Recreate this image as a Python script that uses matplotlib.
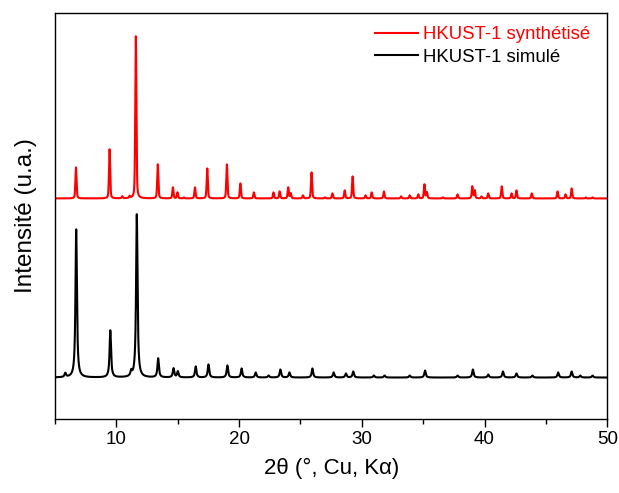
import numpy as np
import matplotlib
matplotlib.use("Agg")
import matplotlib.pyplot as plt

plt.rcParams['font.family'] = ['Liberation Sans', 'DejaVu Sans']

# peak positions (2theta) and heights (arbitrary units)
synth_pos = [6.70, 9.44, 10.47, 11.07, 11.58, 13.37, 14.60, 14.97, 15.50, 16.40,
             17.40, 19.00, 20.10, 21.20, 22.80, 23.30, 24.00, 24.20, 25.20, 25.90,
             27.00, 27.60, 28.60, 29.25, 30.30, 30.80, 31.80, 33.20, 33.90, 34.60,
             35.10, 35.30, 36.60, 37.80, 39.00, 39.20, 39.75, 40.30, 41.40, 42.20,
             42.60, 43.85, 45.95, 46.60, 47.10, 48.25, 48.80]
synth_h = [31, 49, 2, 2, 162, 34, 11, 6, 1, 11,
           30, 34, 15, 6, 6, 7, 11, 5, 3, 26,
           1, 5, 8, 22, 3, 6, 7, 2, 3, 4,
           14, 6, 1, 4, 12, 8, 2, 5, 12, 5,
           8, 5, 7, 4, 10, 1, 1]

sim_pos = [5.83, 6.72, 9.50, 11.20, 11.66, 13.40, 14.65, 15.00, 16.46, 17.50,
           19.04, 20.20, 21.35, 22.40, 23.36, 24.10, 25.97, 27.70, 28.70, 29.30,
           30.98, 31.85, 33.90, 35.15, 37.80, 39.05, 40.30, 41.50, 42.60, 43.90,
           46.00, 47.10, 47.80, 48.80]
sim_h = [4, 148, 47, 5, 163, 19, 9, 6, 11, 13,
         12, 9, 5, 2, 8, 5, 9, 5, 4, 6,
         2, 2, 2, 7, 2, 8, 3, 6, 4, 2,
         5, 6, 2, 2]

synth_offset = 220
sim_offset = 41


def profile(x, pos, h, fwhm, eta):
    y = np.zeros_like(x)
    for p, a in zip(pos, h):
        d = (x - p) / (fwhm / 2)
        lor = 1 / (1 + d ** 2)
        gau = np.exp(-np.log(2) * d ** 2)
        y += a * (eta * lor + (1 - eta) * gau)
    return y


x = np.arange(5, 50.001, 0.005)
y_synth = synth_offset + profile(x, synth_pos, synth_h, 0.11, 0.4)
y_sim = sim_offset + profile(x, sim_pos, sim_h, 0.14, 0.95)

fig = plt.figure(figsize=(6.19, 4.93), dpi=100)
ax = fig.add_axes([0.089, 0.151, 0.892, 0.822])

ax.plot(x, y_synth, color='#ff0000', lw=1.5, label='HKUST-1 synthétisé')
ax.plot(x, y_sim, color='black', lw=1.5, label='HKUST-1 simulé')

ax.set_xlim(5, 50)
ax.set_ylim(0, 405)
ax.set_xticks([10, 20, 30, 40, 50])
ax.set_xticks([5, 15, 25, 35, 45], minor=True)
ax.set_yticks([])
ax.tick_params(axis='x', which='major', length=6, width=1, labelsize=13.5, pad=3)
ax.tick_params(axis='x', which='minor', length=3.5, width=1)
for s in ax.spines.values():
    s.set_linewidth(1.0)

ax.set_xlabel('2θ (°, Cu, Kα)', fontsize=16, labelpad=7)
ax.set_ylabel('Intensité (u.a.)', fontsize=17.5, labelpad=13)

ax.legend(loc='upper right', frameon=False, fontsize=13.4, handlelength=2.3,
          handletextpad=0.3, labelspacing=0.3, labelcolor='linecolor',
          borderaxespad=0.5, bbox_to_anchor=(1.0, 1.01))

plt.savefig('out.png', dpi=100)
